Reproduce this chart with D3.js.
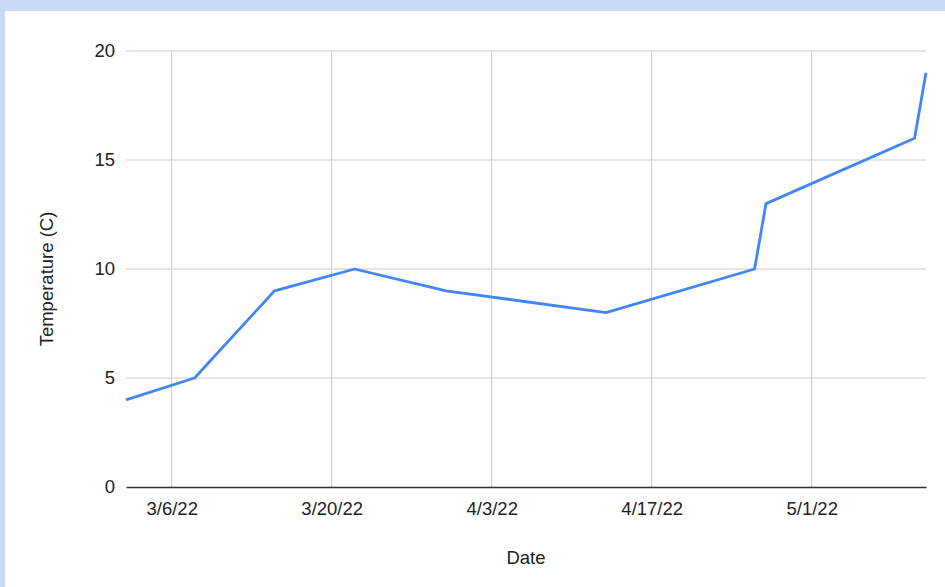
<!DOCTYPE html>
<html>
<head>
<meta charset="utf-8">
<script src="https://cdn.jsdelivr.net/npm/d3@7"></script>
<style>
  html, body { margin: 0; padding: 0; background: #c9daf8; }
  #chart { position: absolute; left: 5px; top: 11px; width: 940px; height: 576px; background: #fff; }
  text { font-family: Arial, 'Liberation Sans', sans-serif; }
</style>
</head>
<body>
<div id="chart"></div>
<script>
const dates = ['3/2/22', '3/8/22', '3/15/22', '3/22/22', '3/30/22', '4/13/22', '4/26/22', '4/27/22', '5/10/22', '5/11/22']
const temps = [4, 5, 9, 10, 9, 8, 10, 13, 16, 19]
const xTickLabels = ['3/6/22', '3/20/22', '4/3/22', '4/17/22', '5/1/22']
const yTicks = [0, 5, 10, 15, 20]

const parse = d3.timeParse('%m/%d/%y')
const data = dates.map((d, i) => ({ date: parse(d), value: temps[i] }))

const el = document.getElementById('chart')
const w = el.clientWidth, h = el.clientHeight
const fontSize = '18.5px'
// page offsets are 5 / 11, so plot runs 126..925 x, 51..487 y on the page
const margin = { left: 121, right: 19, top: 40, bottom: 100 }
const iw = w - margin.left - margin.right, ih = h - margin.top - margin.bottom

const svg = d3.select(el).append('svg').attr('width', w).attr('height', h)
const g = svg.append('g').attr('transform', `translate(${margin.left},${margin.top})`)

const x = d3.scaleTime().domain(d3.extent(data, d => d.date)).range([0, iw])
const y = d3.scaleLinear().domain([0, 20]).range([ih, 0])

// gridlines
g.append('g').selectAll('line')
  .data(xTickLabels.map(parse)).enter().append('line')
  .attr('x1', d => x(d)).attr('x2', d => x(d))
  .attr('y1', 0).attr('y2', ih)
  .attr('stroke', '#cccccc').attr('stroke-width', 1)
g.append('g').selectAll('line')
  .data(yTicks.filter(v => v > 0)).enter().append('line')
  .attr('x1', 0).attr('x2', iw)
  .attr('y1', d => y(d)).attr('y2', d => y(d))
  .attr('stroke', '#cccccc').attr('stroke-width', 1)

// axes
const yAxis = g.append('g')
  .call(d3.axisLeft(y).tickValues(yTicks).tickSize(0).tickPadding(11))
yAxis.select('.domain').remove()
yAxis.selectAll('text').style('font-size', fontSize).style('fill', '#222')

const xAxis = g.append('g').attr('transform', `translate(0,${ih})`)
  .call(d3.axisBottom(x).tickValues(xTickLabels.map(parse)).tickFormat(d3.timeFormat('%-m/%-d/%y')).tickSize(0).tickPadding(15))
xAxis.select('.domain').attr('stroke', '#333').attr('stroke-width', 1.5)
xAxis.selectAll('text').style('font-size', fontSize).style('fill', '#222')

// line
g.append('path')
  .datum(data)
  .attr('fill', 'none')
  .attr('stroke', '#4285f4')
  .attr('stroke-width', 2.8)
  .attr('stroke-linejoin', 'round')
  .attr('d', d3.line().x(d => x(d.date)).y(d => y(d.value)))

// titles
svg.append('text')
  .attr('x', 521).attr('y', 553)
  .attr('text-anchor', 'middle')
  .style('font-size', fontSize).style('fill', '#222')
  .text('Date')
svg.append('text')
  .attr('transform', `translate(48,${margin.top + ih / 2 + 10}) rotate(-90)`)
  .attr('text-anchor', 'middle')
  .style('font-size', fontSize).style('fill', '#222')
  .text('Temperature (C)')
</script>
</body>
</html>
